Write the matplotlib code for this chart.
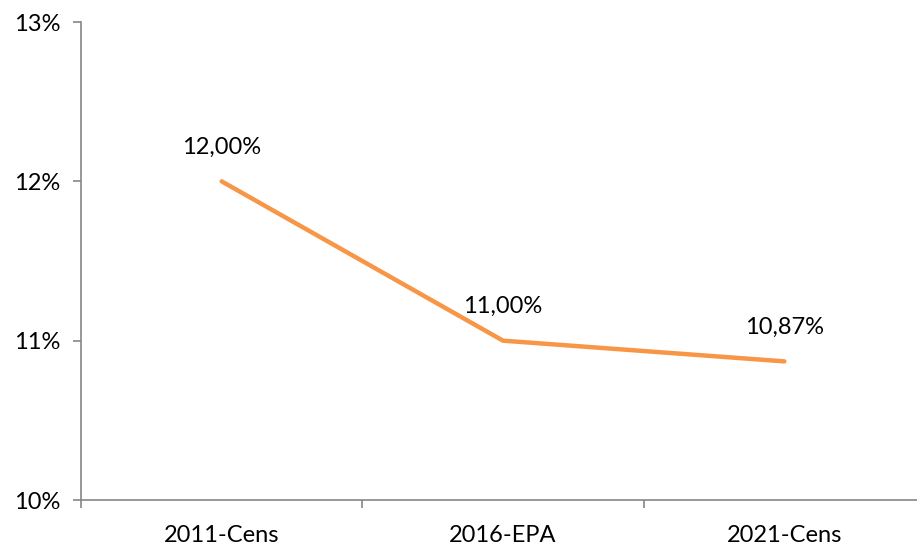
import matplotlib.pyplot as plt
from matplotlib.ticker import FuncFormatter

categories = ['2011-Cens', '2016-EPA', '2021-Cens']
values = [12.00, 11.00, 10.87]
y_ticks = [10, 11, 12, 13]

plt.rcParams['font.family'] = ['Lato', 'DejaVu Sans']

fig = plt.figure(figsize=(9.17, 5.48), dpi=100)
ax = fig.add_axes([81 / 917, 48 / 548, 844 / 917, 478 / 548])

x = list(range(len(categories)))
ax.plot(x, values, color='#F79646', lw=3.2, solid_capstyle='round', zorder=3)

for xi, v in zip(x, values):
    ax.annotate(f'{v:.2f}%'.replace('.', ','), (xi, v), xytext=(0, 24.5),
                textcoords='offset points', ha='center', va='center',
                fontsize=17, color='#000000')

ax.set_xlim(-0.5, 2.5)
ax.set_ylim(10, 13)
ax.set_yticks(y_ticks)
ax.yaxis.set_major_formatter(FuncFormatter(lambda v, p: f'{v:.0f}%'))
ax.set_xticks(x)
ax.set_xticklabels(categories)
ax.set_xticks([-0.5, 0.5, 1.5, 2.5], minor=True)

gray = '#868686'
for s in ['top', 'right']:
    ax.spines[s].set_visible(False)
for s in ['left', 'bottom']:
    ax.spines[s].set_color(gray)
    ax.spines[s].set_linewidth(1.2)

ax.tick_params(axis='y', length=6, width=1.2, color=gray, labelsize=17, pad=9)
ax.tick_params(axis='x', which='major', length=0, labelsize=17, pad=18)
ax.tick_params(axis='x', which='minor', length=6, width=1.2, color=gray)

fig.savefig('out.png', dpi=100)
